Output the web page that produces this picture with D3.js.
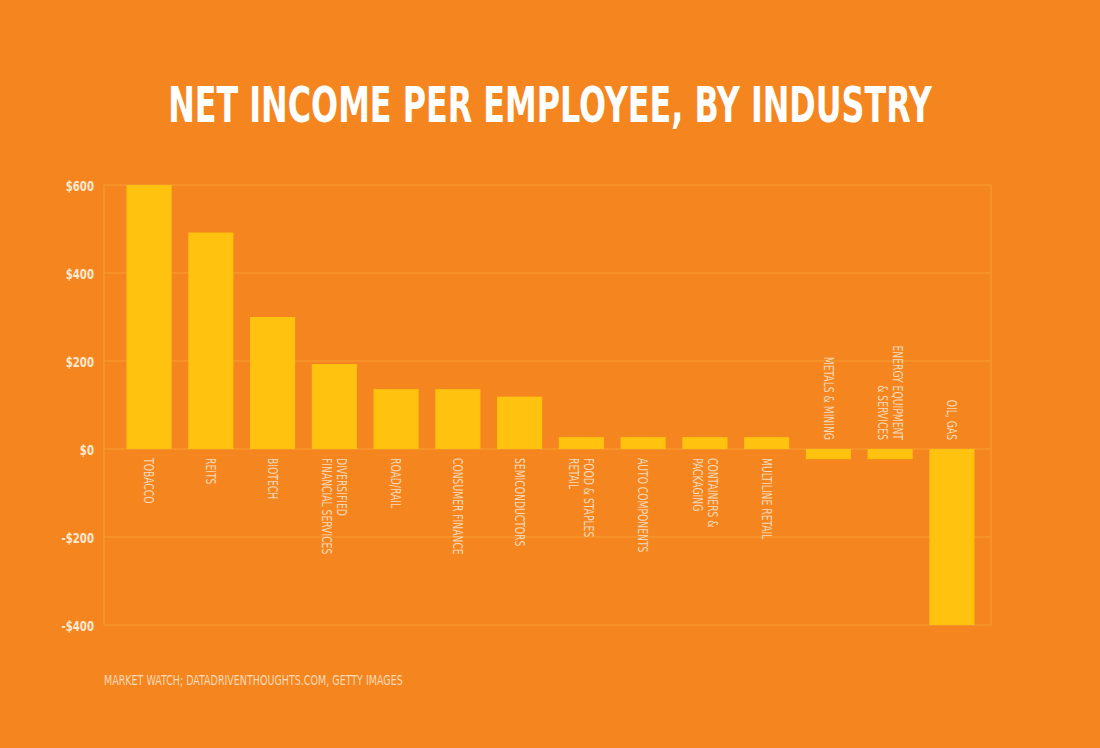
<!DOCTYPE html>
<html>
<head>
<meta charset="utf-8">
<script src="https://cdn.jsdelivr.net/npm/d3@7"></script>
<style>
  body { margin: 0; background: #f5861f; }
  svg { display: block; }
</style>
</head>
<body>
<svg id="chart" width="1100" height="748"></svg>
<script>
// industries, first line / second line of each label
var industries = [
    ["TOBACCO"],
    ["REITS"],
    ["BIOTECH"],
    ["DIVERSIFIED", "FINANCIAL SERVICES"],
    ["ROAD/RAIL"],
    ["CONSUMER FINANCE"],
    ["SEMICONDUCTORS"],
    ["FOOD & STAPLES", "RETAIL"],
    ["AUTO COMPONENTS"],
    ["CONTAINERS &", "PACKAGING"],
    ["MULTILINE RETAIL"],
    ["METALS & MINING"],
    ["ENERGY EQUIPMENT", "& SERVICES"],
    ["OIL, GAS"]
];
var netIncome = [600, 492, 300, 193, 136, 136, 119, 27, 27, 27, 27, -23, -23, -400];
var yTicks = [-400, -200, 0, 200, 400, 600];
var yTickLabels = ["-$400", "-$200", "$0", "$200", "$400", "$600"];

var svg = d3.select("#chart");
var font = "'DejaVu Sans Condensed', 'DejaVu Sans', sans-serif";
var squeeze = 0.78; // no condensed gothic here, so narrow the glyphs by hand

svg.append("rect").attr("width", 1100).attr("height", 748).attr("fill", "#f5861f");

var x = d3.scaleBand()
    .domain(d3.range(industries.length))
    .range([108, 993])
    .paddingInner(0.27)
    .paddingOuter(0.3);

var y = d3.scaleLinear().domain([-400, 600]).range([625, 185]);

// fits a text to a given width by scaling it along x
function fitWidth(sel, cx, cy, w) {
    var len = sel.node().getComputedTextLength();
    sel.attr("transform", "translate(" + cx + "," + cy + ") scale(" + (w / len) + ",1)");
}

// title
var title = svg.append("text")
    .attr("text-anchor", "middle")
    .attr("fill", "#ffffff")
    .style("font-family", font)
    .style("font-weight", "bold")
    .style("font-size", "50px")
    .text("NET INCOME PER EMPLOYEE, BY INDUSTRY");
fitWidth(title, 550, 122, 764);

// grid
var grid = svg.append("g");
grid.selectAll("line.h")
    .data(yTicks)
    .enter().append("line")
    .attr("x1", 104).attr("x2", 991)
    .attr("y1", function(d) { return y(d); })
    .attr("y2", function(d) { return y(d); })
    .attr("stroke", "#fa9d32")
    .attr("stroke-width", 1);
grid.selectAll("line.v")
    .data([104, 991])
    .enter().append("line")
    .attr("x1", function(d) { return d; })
    .attr("x2", function(d) { return d; })
    .attr("y1", y(600)).attr("y2", y(-400))
    .attr("stroke", "#fa9d32")
    .attr("stroke-width", 1);

// y labels
svg.selectAll("text.ylab")
    .data(yTicks)
    .enter().append("text")
    .attr("class", "ylab")
    .attr("transform", function(d) { return "translate(94," + y(d) + ") scale(" + squeeze + ",1)"; })
    .attr("dy", "0.38em")
    .attr("text-anchor", "end")
    .attr("fill", "#fde9d3")
    .style("font-family", font)
    .style("font-weight", "bold")
    .style("font-size", "14.5px")
    .text(function(d, i) { return yTickLabels[i]; });

// bars
svg.selectAll("rect.bar")
    .data(netIncome)
    .enter().append("rect")
    .attr("class", "bar")
    .attr("x", function(d, i) { return x(i); })
    .attr("width", x.bandwidth())
    .attr("y", function(d) { return y(Math.max(0, d)); })
    .attr("height", function(d) { return Math.abs(y(d) - y(0)); })
    .attr("fill", "#ffc20e");

// category labels, rotated
var labels = svg.selectAll("g.lab")
    .data(industries)
    .enter().append("g")
    .attr("class", "lab")
    .attr("transform", function(d, i) {
        var cx = x(i) + x.bandwidth() / 2;
        var ly = netIncome[i] < 0 ? y(0) - 9 : y(0) + 9;
        return "translate(" + cx + "," + ly + ") rotate(90) scale(0.76,1)";
    });

labels.each(function(d, i) {
    var g = d3.select(this);
    var n = d.length;
    d.forEach(function(line, k) {
        // rotated 90deg: first line sits on the right
        var off = (k - (n - 1) / 2) * 15;
        g.append("text")
            .attr("x", 0)
            .attr("y", off)
            .attr("dy", "0.35em")
            .attr("text-anchor", netIncome[i] < 0 ? "end" : "start")
            .attr("fill", "#f7d9b8")
            .style("font-family", font)
            .style("font-size", "13.5px")
            .text(line);
    });
});

// source
var src = svg.append("text")
    .attr("fill", "#f7d9b8")
    .style("font-family", font)
    .style("font-size", "14.5px")
    .text("MARKET WATCH; DATADRIVENTHOUGHTS.COM, GETTY IMAGES");
fitWidth(src, 104, 685, 299);
</script>
</body>
</html>
